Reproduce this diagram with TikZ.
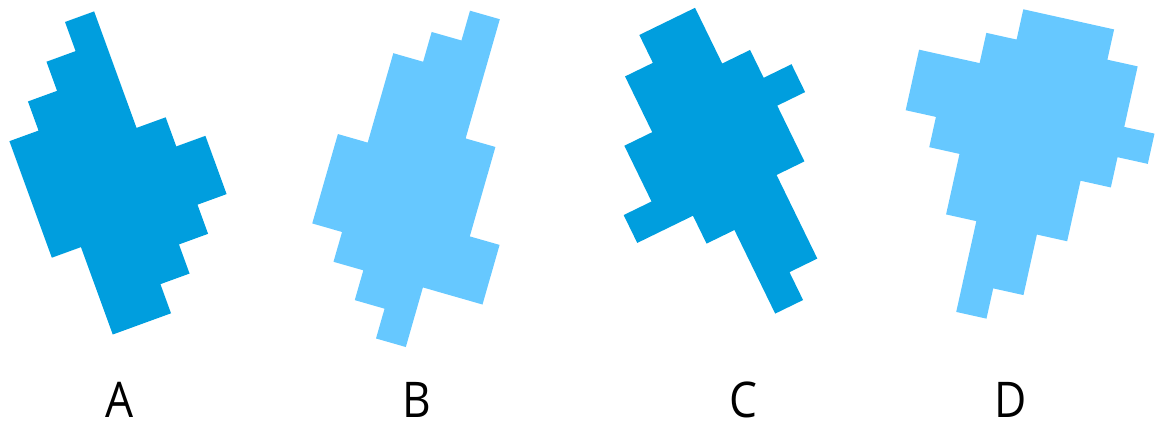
\documentclass[tikz,border=0pt]{standalone}
\usepackage{fontspec}
\newfontfamily\letterfont[FakeStretch=0.9]{Open Sans}
\definecolor{darkblue}{RGB}{0,158,222}
\definecolor{lightblue}{RGB}{102,200,255}
\tikzset{
  darkshape/.style={fill=darkblue},
  lightshape/.style={fill=lightblue},
  letter/.style={
    anchor=base,
    inner sep=0pt,
    font=\letterfont\fontsize{14pt}{16pt}\selectfont
  },
  grid/.style={x=3.1mm, y=-3.1mm}
}
\begin{document}
\begin{tikzpicture}[x=0.1mm,y=-0.1mm]
\useasboundingbox (0,0) rectangle (1157,428);

% shape A
\begin{scope}[shift={(65,22)}, rotate=20, grid]
\fill[darkshape] (0,0) -- (1,0) -- (1,4) -- (2,4) -- (2,5) -- (3,5) -- (3,7) -- (2,7) -- (2,8)
  -- (1,8) -- (1,9) -- (0,9) -- (0,10) -- (-2,10) -- (-2,7) -- (-3,7) -- (-3,3) -- (-2,3)
  -- (-2,2) -- (-1,2) -- (-1,1) -- (0,1) -- cycle;
\end{scope}

% shape B
\begin{scope}[shift={(470,10.7)}, rotate=-16, grid]
\fill[lightshape] (0,0) -- (1,0) -- (1,4) -- (2,4) -- (2,7) -- (3,7) -- (3,9) -- (1,9) -- (1,11)
  -- (0,11) -- (0,10) -- (-1,10) -- (-1,9) -- (-2,9) -- (-2,8) -- (-3,8) -- (-3,5) -- (-2,5)
  -- (-2,2) -- (-1,2) -- (-1,1) -- (0,1) -- cycle;
\end{scope}

% shape C
\begin{scope}[shift={(639.3,35)}, rotate=26, grid]
\fill[darkshape] (0,0) -- (2,0) -- (2,2) -- (3,2) -- (3,3) -- (4,3) -- (4,4) -- (3,4) -- (3,6)
  -- (2,6) -- (2,9) -- (1,9) -- (1,10) -- (0,10) -- (0,7) -- (-1,7) -- (-1,6) -- (-3,6)
  -- (-3,5) -- (-2,5) -- (-2,3) -- (-1,3) -- (-1,1) -- (0,1) -- cycle;
\end{scope}

% shape D
\begin{scope}[shift={(1023.3,9.3)}, rotate=-12.5, grid]
\fill[lightshape] (0,0) -- (3,0) -- (3,1) -- (4,1) -- (4,3) -- (5,3) -- (5,4) -- (4,4) -- (4,5)
  -- (3,5) -- (3,7) -- (2,7) -- (2,9) -- (1,9) -- (1,10) -- (0,10) -- (0,7) -- (-1,7)
  -- (-1,5) -- (-2,5) -- (-2,4) -- (-3,4) -- (-3,2) -- (-1,2) -- (-1,1) -- (0,1) -- cycle;
\end{scope}

% labels
\node[letter] (labA) at (120,418) {A};
\node[letter] (labB) at (417,418) {B};
\node[letter] (labC) at (743,418) {C};
\node[letter] (labD) at (1011,418) {D};
\end{tikzpicture}
\end{document}
